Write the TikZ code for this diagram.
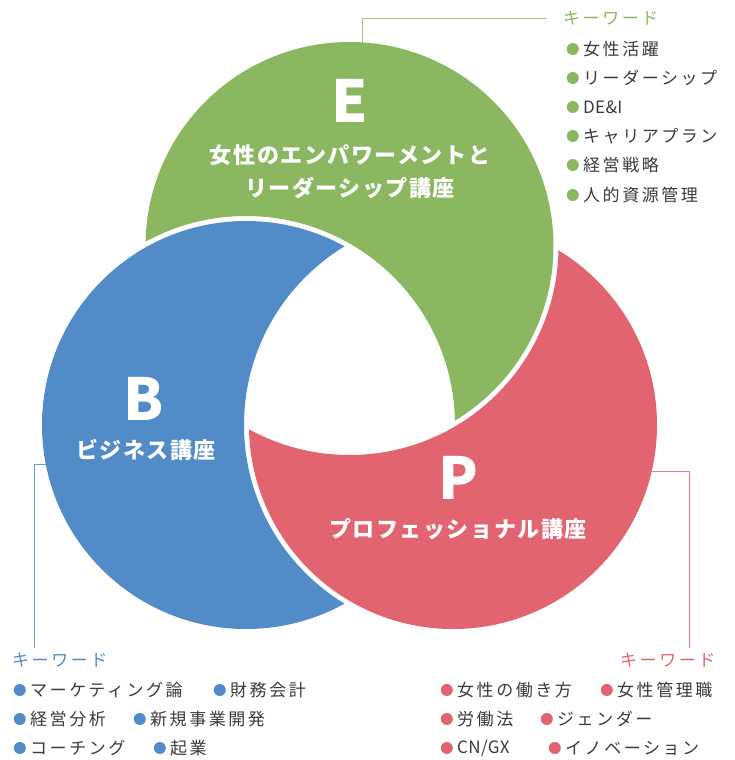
\documentclass[tikz,border=0pt]{standalone}
\usepackage{fontspec}
\usepackage{xcolor}
\setmainfont{Noto Sans CJK JP}
\newfontfamily\kwfont{Noto Sans CJK JP}[LetterSpace=15]
\newfontfamily\latfont{Noto Sans CJK JP}[LetterSpace=2]
\newfontfamily\ttlfont{Noto Sans CJK JP}[LetterSpace=7]
\usetikzlibrary{positioning}

\definecolor{egreen}{HTML}{8BB761}
\definecolor{bblue}{HTML}{528CC8}
\definecolor{pred}{HTML}{E26470}
\definecolor{kwgray}{HTML}{3A3A3A}

\begin{document}
\begin{tikzpicture}[x=1pt,y=-1pt,
    letter/.style={text=white,font=\ttlfont\bfseries\fontsize{58}{60}\selectfont,inner sep=0},
    title/.style={text=white,font=\ttlfont\bfseries\fontsize{22}{26}\selectfont,inner sep=0},
    keyhead/.style={text=#1,font=\kwfont\fontsize{17}{20}\selectfont,inner sep=0,anchor=west},
    item/.style={text=kwgray,font=\kwfont\fontsize{17}{20}\selectfont,inner sep=0,anchor=west,
        label={[circle,fill=#1,inner sep=0,minimum size=12pt,label distance=4pt]left:{}}},
    hook/.style={draw=#1,line width=0.9pt}]
    \useasboundingbox (0,0) rectangle (734,760);

    % Circle centres
    \coordinate (eC) at (349.5,246);
    \coordinate (bC) at (246,425);
    \coordinate (pC) at (453,425);

    % Crescents (each circle minus the next one plus a white gap)
    \begin{scope}
        \clip (eC) circle (204pt);
        \fill[egreen,even odd rule] (eC) circle (215pt) (bC) circle (209pt);
    \end{scope}
    \begin{scope}
        \clip (bC) circle (204pt);
        \fill[bblue,even odd rule] (bC) circle (215pt) (pC) circle (209pt);
    \end{scope}
    \begin{scope}
        \clip (pC) circle (204pt);
        \fill[pred,even odd rule] (pC) circle (215pt) (eC) circle (209pt);
    \end{scope}

    % Titles
    \node[letter] (eL) at (350,101) {E};
    \node[title] (eT1) at (350,155) {女性のエンパワーメントと};
    \node[title] (eT2) at (350,188) {リーダーシップ講座};
    \node[letter] (bL) at (144,399) {B};
    \node[title] (bT) at (146,450) {ビジネス講座};
    \node[letter] (pL) at (458,478) {P};
    \node[title] (pT) at (458,529) {プロフェッショナル講座};

    % Keyword headings and leader lines
    \node[keyhead=egreen] (ekey) at (563,18) {キーワード};
    \node[keyhead=bblue] (bkey) at (12,660) {キーワード};
    \node[keyhead=pred] (pkey) at (620,660) {キーワード};
    \coordinate (ehook) at (362,43);
    \coordinate (bhook) at (46,464);
    \coordinate (bfoot) at (34,648);
    \coordinate (phook) at (652,471);
    \coordinate (pfoot) at (689,648);
    \draw[hook=egreen!80] (ehook) |- ([xshift=-16pt]ekey.west);
    \draw[hook=bblue!85] (bhook) -| (bfoot);
    \draw[hook=pred!85] (phook) -| (pfoot);

    % E keywords
    \node[item=egreen] (e1) at (583,49) {女性活躍};
    \node[item=egreen] (e2) at (583,78) {リーダーシップ};
    \node[item=egreen] (e3) at (583,107) {\latfont DE\&I};
    \node[item=egreen] (e4) at (583,136) {キャリアプラン};
    \node[item=egreen] (e5) at (583,165) {経営戦略};
    \node[item=egreen] (e6) at (583,195) {人的資源管理};

    % B keywords
    \node[item=bblue] (b1) at (30,690) {マーケティング論};
    \node[item=bblue] (b2) at (230,690) {財務会計};
    \node[item=bblue] (b3) at (30,719) {経営分析};
    \node[item=bblue] (b4) at (150,719) {新規事業開発};
    \node[item=bblue] (b5) at (30,748) {コーチング};
    \node[item=bblue] (b6) at (170,748) {起業};

    % P keywords
    \node[item=pred] (p1) at (457,690) {女性の働き方};
    \node[item=pred] (p2) at (617,690) {女性管理職};
    \node[item=pred] (p3) at (457,719) {労働法};
    \node[item=pred] (p4) at (557,719) {ジェンダー};
    \node[item=pred] (p5) at (457,748) {\latfont CN/GX};
    \node[item=pred] (p6) at (565,748) {イノベーション};
\end{tikzpicture}
\end{document}
